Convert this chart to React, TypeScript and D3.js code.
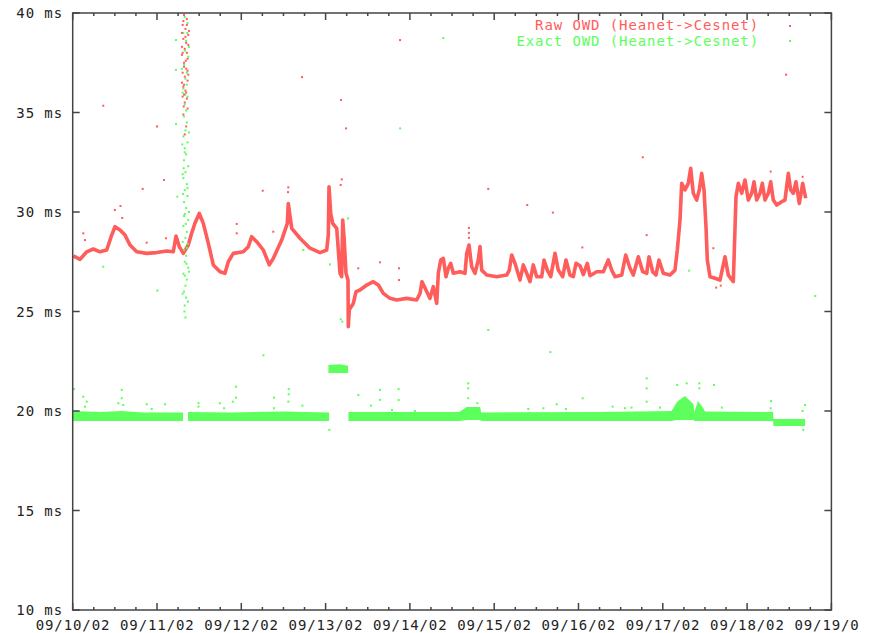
import React from 'react'
import * as d3 from 'd3'

// hours since 09/10/02 00:00, delay in ms
const rawTrace: [number, number][] = [
  [0.17, 27.79], [2.08, 27.62], [3.99, 28.0], [5.86, 28.14], [7.77, 28.0], [9.68, 28.09],
  [11.1, 28.84], [12.04, 29.26], [13.47, 29.1], [14.89, 28.84], [16.31, 28.34], [18.22, 28.0],
  [21.07, 27.92], [23.91, 27.96], [26.76, 28.04], [28.64, 28.0], [29.41, 28.79], [30.35, 28.26],
  [31.49, 27.92], [32.91, 28.34], [33.88, 28.94], [34.82, 29.45], [36.04, 29.93], [37.18, 29.43],
  [38.61, 28.43], [40.03, 27.34], [41.94, 27.0], [43.36, 26.92], [44.3, 27.5], [45.72, 27.92],
  [48.57, 28.0], [49.99, 28.26], [50.96, 28.76], [52.38, 28.51], [54.26, 28.09], [55.97, 27.34],
  [57.11, 27.67], [59.5, 28.59], [61.1, 29.43], [61.38, 30.43], [62.35, 29.18], [64.71, 28.68],
  [67.56, 28.18], [70.41, 27.96], [72.31, 28.09], [72.77, 28.84], [72.97, 31.27], [73.45, 29.93],
  [74.02, 29.43], [75.16, 29.18], [75.62, 28.09], [76.1, 26.92], [76.58, 26.75], [76.87, 29.6],
  [77.24, 28.76], [77.81, 26.92], [78.38, 26.58], [78.46, 24.24], [78.75, 25.08], [79.89, 25.41],
  [80.66, 26.0], [81.79, 26.08], [83.7, 26.33], [85.58, 26.5], [87.01, 26.33], [88.43, 25.91],
  [90.33, 25.66], [92.24, 25.58], [95.09, 25.66], [97.94, 25.58], [98.88, 25.91], [99.45, 26.5],
  [100.58, 26.08], [101.72, 25.66], [102.66, 26.25], [103.15, 25.83], [103.63, 25.41], [104.09, 26.92],
  [104.77, 27.59], [105.51, 27.67], [106.28, 26.75], [106.93, 27.17], [107.62, 27.42], [108.36, 26.92],
  [110.26, 27.0], [111.69, 26.92], [112.17, 27.92], [112.83, 28.34], [113.59, 27.25], [114.53, 26.92],
  [115.47, 27.59], [115.96, 28.26], [116.44, 27.08], [117.87, 26.83], [120.71, 26.75], [123.56, 26.83],
  [124.3, 27.08], [124.98, 27.84], [125.92, 27.42], [127.35, 26.58], [128.29, 27.34], [129.25, 26.92],
  [130.19, 26.5], [131.13, 27.34], [132.1, 26.75], [133.52, 26.75], [134.18, 27.59], [135.12, 27.08],
  [136.09, 26.75], [137.31, 27.92], [138.25, 27.08], [139.5, 26.75], [140.44, 27.59], [141.58, 26.83],
  [142.52, 26.75], [143.29, 27.42], [144.43, 27.3], [145.37, 26.85], [146.51, 27.42], [147.27, 26.8],
  [149.18, 27.0], [151.06, 27.0], [152.48, 27.59], [153.45, 27.08], [154.39, 26.75], [156.3, 26.83],
  [157.44, 27.84], [158.66, 27.17], [159.6, 26.83], [161.03, 27.75], [162.28, 27.0], [163.42, 26.92],
  [164.07, 27.75], [165.12, 27.0], [166.06, 26.83], [166.92, 27.59], [168.14, 26.92], [170.05, 26.83],
  [171.47, 27.08], [172.13, 28.09], [172.9, 29.6], [173.38, 31.44], [174.32, 31.11], [175.26, 31.44],
  [175.94, 32.2], [176.68, 30.94], [177.65, 30.6], [178.39, 31.11], [179.07, 31.94], [179.73, 31.11],
  [180.3, 29.26], [180.67, 27.59], [181.44, 26.75], [182.86, 26.67], [184.28, 26.58], [185.71, 27.75],
  [186.65, 26.83], [188.07, 26.5], [188.36, 28.09], [188.84, 30.77], [189.5, 31.44], [190.46, 30.94],
  [191.4, 31.61], [192.34, 30.6], [193.31, 30.94], [193.97, 31.52], [194.73, 30.6], [195.67, 30.94],
  [196.33, 31.44], [197.1, 30.6], [198.04, 30.94], [198.72, 31.52], [199.46, 30.6], [200.43, 30.35],
  [201.85, 30.52], [202.79, 30.6], [203.73, 31.94], [204.41, 31.11], [205.15, 30.94], [205.92, 31.52],
  [206.86, 30.43], [207.83, 31.44], [208.68, 30.69],
]

const rawOutliers: [number, number][] = [
  [8.7, 35.34], [24.0, 34.3], [65.3, 36.78], [93.2, 38.64], [76.4, 35.63], [77.8, 34.2],
  [25.99, 31.61], [19.93, 31.16], [54.1, 31.07], [61.38, 31.24], [3.02, 28.93], [3.5, 28.59],
  [21.07, 28.46], [46.7, 29.4], [46.7, 28.93], [57.1, 29.01], [26.56, 28.68], [76.6, 31.64],
  [76.3, 31.36], [118.3, 31.16], [129.4, 30.35], [136.7, 29.97], [145.1, 28.22], [81.3, 27.17],
  [92.9, 27.17], [92.9, 26.58], [87.5, 27.47], [162.3, 32.75], [163.4, 28.84], [182.4, 28.18],
  [198.7, 32.03], [207.8, 31.77], [203.1, 36.9], [112.8, 29.2], [112.8, 28.95], [112.8, 28.7],
  [12.0, 30.1], [13.6, 30.3], [14.1, 29.7], [61.3, 31.0], [183.2, 26.2], [184.5, 26.3],
]

// burst of scattered points around 09/11 08:00
const rawBurst: [number, number][] = [
  [31.7, 39.9], [32.5, 39.7], [31.3, 39.4], [32.1, 39.2], [32.9, 38.9], [31.5, 38.7], [32.3, 38.5],
  [31.9, 38.2], [31.1, 37.9], [32.7, 37.7], [31.7, 37.5], [32.3, 37.2], [31.3, 37.0], [31.9, 36.8],
  [32.7, 36.6], [31.5, 36.3], [32.1, 36.1], [31.7, 35.9], [32.5, 35.7], [31.9, 35.5], [31.5, 34.9],
  [32.3, 34.3], [33.1, 39.1], [31.1, 38.3], [32.5, 38.0], [31.7, 37.3], [32.9, 36.9], [31.1, 36.5],
  [32.3, 36.0], [31.3, 35.8], [32.7, 35.2], [31.9, 33.9], [31.5, 39.6], [32.1, 38.8], [32.7, 37.1],
  [31.7, 36.4], [32.5, 39.4], [31.3, 38.0], [32.9, 38.4], [31.1, 39.0], [32.2, 37.6], [31.6, 35.3],
]

const exactBurst: [number, number][] = [
  [31.9, 39.8], [32.7, 39.5], [31.5, 39.0], [32.3, 38.6], [31.9, 38.1], [32.9, 37.8], [31.7, 37.4],
  [32.5, 37.0], [32.1, 36.7], [31.5, 36.2], [32.7, 35.8], [31.9, 35.4], [32.3, 35.1], [31.7, 34.8],
  [32.5, 34.5], [32.1, 34.1], [31.5, 33.8], [32.7, 33.5], [31.9, 33.2], [32.3, 32.9], [31.7, 32.6],
  [32.9, 32.3], [32.1, 32.0], [31.5, 31.7], [32.5, 31.4], [31.9, 31.1], [32.7, 30.8], [31.7, 30.5],
  [32.3, 30.2], [31.9, 29.9], [32.9, 29.6], [31.5, 29.3], [32.5, 29.0], [32.1, 28.7], [32.7, 28.4],
  [31.7, 28.1], [32.3, 27.8], [31.9, 27.5], [32.9, 27.2], [31.5, 26.9], [32.5, 26.6], [32.1, 26.3],
  [31.7, 26.0], [32.3, 25.7], [31.9, 25.3], [32.1, 24.7], [33.1, 38.3], [31.3, 36.0], [33.1, 34.0],
  [31.3, 31.9], [33.1, 30.0], [31.3, 28.5], [33.1, 27.0], [31.3, 25.9], [32.5, 36.4], [31.9, 33.0],
  [32.7, 31.2], [31.7, 29.8], [32.5, 28.2], [31.9, 26.8], [31.1, 37.2], [31.2, 33.4], [32.8, 25.5],
  [31.4, 30.9], [32.6, 39.0], [32.0, 35.9], [31.6, 32.2], [32.4, 27.4], [31.8, 25.0], [32.2, 29.4],
]

const exactOutliers: [number, number][] = [
  [105.5, 38.74], [93.2, 34.2], [29.4, 38.64], [29.4, 37.14], [29.4, 34.42], [29.8, 30.77],
  [24.1, 26.05], [8.7, 27.25], [65.65, 28.09], [73.25, 27.37], [78.4, 29.68], [76.3, 24.61],
  [76.75, 24.49], [118.3, 24.07], [175.5, 27.05], [211.4, 25.78], [136.0, 22.96], [54.3, 22.8],
  [0.37, 21.1], [3.0, 20.72], [4.0, 20.47], [3.5, 20.22], [13.95, 21.06], [13.95, 20.64],
  [14.4, 20.3], [13.0, 20.39], [21.07, 20.34], [22.5, 20.1], [26.3, 20.34], [35.8, 20.39],
  [35.8, 20.22], [41.9, 20.39], [43.1, 20.14], [46.5, 21.22], [46.5, 20.67], [45.6, 20.47],
  [57.3, 20.67], [57.3, 20.14], [61.5, 21.1], [61.5, 20.84], [61.4, 20.47], [65.4, 20.27],
  [73.05, 19.05], [81.3, 20.8], [84.9, 20.27], [87.5, 21.06], [87.5, 20.56], [92.8, 21.1],
  [92.8, 20.55], [90.9, 20.05], [97.4, 20.0], [112.6, 21.39], [112.6, 21.14], [112.6, 20.64],
  [115.2, 20.39], [129.7, 20.1], [134.0, 20.14], [137.8, 20.34], [140.4, 20.1], [145.2, 20.64],
  [153.7, 20.22], [157.2, 20.14], [159.1, 20.17], [163.4, 21.64], [163.4, 21.14], [163.4, 20.47],
  [167.2, 20.17], [172.1, 21.31], [174.8, 21.39], [178.4, 21.39], [178.4, 21.14], [182.6, 21.31],
  [184.8, 20.17], [198.8, 20.5], [198.7, 20.14], [207.8, 20.0], [208.5, 20.3], [208.0, 19.05],
]

// [hour, low ms, high ms]
const exactSeg1: [number, number, number][] = [
  [0.1, 19.55, 19.95], [8, 19.55, 19.9], [14, 19.55, 19.95], [20, 19.55, 19.88], [31.4, 19.55, 19.88],
]
const exactSeg2: [number, number, number][] = [
  [32.8, 19.55, 19.9], [45, 19.55, 19.88], [60, 19.55, 19.92], [73.0, 19.55, 19.88],
]
const exactSeg3: [number, number, number][] = [
  [72.8, 21.96, 22.26], [76, 21.96, 22.3], [78.4, 21.96, 22.22],
]
const exactSeg4: [number, number, number][] = [
  [78.5, 19.55, 19.9], [110, 19.55, 19.9], [112.2, 19.6, 20.15], [116, 19.6, 20.15], [116.3, 19.55, 19.88],
  [150, 19.55, 19.9], [170.5, 19.55, 19.95], [172, 19.6, 20.4], [174.3, 19.6, 20.7], [176.7, 19.6, 20.3],
  [177, 19.55, 19.9], [178, 19.55, 20.45], [179.5, 19.55, 20.1], [180, 19.55, 19.92], [199.4, 19.55, 19.9],
  [199.5, 19.3, 19.55], [208.5, 19.3, 19.55],
]

const dayLabels = ['09/10/02', '09/11/02', '09/12/02', '09/13/02', '09/14/02', '09/15/02', '09/16/02', '09/17/02', '09/18/02', '09/19/0']
const msTicks = [10, 15, 20, 25, 30, 35, 40]

const RED = '#ff5c5c'
const GREEN = '#5cff5c'
const AXIS = '#444'
const FONT = "'DejaVu Sans Mono', monospace"

export default function App() {
  const W = 872
  const H = 633
  const x = d3.scaleLinear().domain([0, 216]).range([72.7, 831.4])
  const y = d3.scaleLinear().domain([10, 40]).range([610, 13])
  const [x0, x1] = x.range()
  const [yb, yt] = y.range()

  const line = d3.line<[number, number]>().x(d => x(d[0])).y(d => y(d[1]))
  const band = d3.area<[number, number, number]>()
    .x(d => x(d[0])).y0(d => y(d[1]) + 1).y1(d => y(d[2]) - 1)

  const hourTicks = d3.range(0, 217, 6)

  const dots = (pts: [number, number][], color: string) =>
    pts.map((p, i) => (
      <rect key={i} x={x(p[0]) - 1} y={y(p[1]) - 1} width={2} height={2} fill={color} />
    ))

  return (
    <svg width={W} height={H} style={{ position: 'absolute', left: 0, top: 0, background: '#fff' }}>
      <g>
        {[exactSeg1, exactSeg2, exactSeg3, exactSeg4].map((s, i) => (
          <path key={i} d={band(s) || ''} fill={GREEN} />
        ))}
        {dots(exactOutliers, GREEN)}
        <path d={line(rawTrace) || ''} fill="none" stroke={RED} strokeWidth={3.6} strokeLinejoin="round" />
        {dots(rawOutliers, RED)}
        {dots(exactBurst, GREEN)}
        {dots(rawBurst, RED)}
      </g>

      <rect x={x0} y={yt} width={x1 - x0} height={yb - yt} fill="none" stroke={AXIS} strokeWidth={1.5} />

      {hourTicks.map(h => {
        const len = h % 24 === 0 ? 7 : 3
        return (
          <g key={h} stroke={AXIS} strokeWidth={1.5}>
            <line x1={x(h)} x2={x(h)} y1={yb} y2={yb - len} />
            <line x1={x(h)} x2={x(h)} y1={yt} y2={yt + len} />
          </g>
        )
      })}
      {msTicks.map(v => (
        <g key={v}>
          <line x1={x0} x2={x0 + 7} y1={y(v)} y2={y(v)} stroke={AXIS} strokeWidth={1.5} />
          <line x1={x1} x2={x1 - 7} y1={y(v)} y2={y(v)} stroke={AXIS} strokeWidth={1.5} />
          <text x={63} y={y(v) + 5} textAnchor="end" fontFamily={FONT} fontSize={14} letterSpacing={0.9} fill="#222">
            {v} ms
          </text>
        </g>
      ))}
      {dayLabels.map((t, i) => (
        <text key={t} x={x(i * 24) - 37} y={630} fontFamily={FONT} fontSize={14} letterSpacing={0.9} fill="#222">
          {t}
        </text>
      ))}

      <text x={759} y={30} textAnchor="end" fontFamily={FONT} fontSize={14} letterSpacing={0.9} fill={RED}>
        Raw OWD (Heanet-&gt;Cesnet)
      </text>
      <text x={759} y={46} textAnchor="end" fontFamily={FONT} fontSize={14} letterSpacing={0.9} fill={GREEN}>
        Exact OWD (Heanet-&gt;Cesnet)
      </text>
      <rect x={789} y={25} width={2} height={2} fill={RED} />
      <rect x={789} y={40} width={2} height={2} fill={GREEN} />
    </svg>
  )
}
